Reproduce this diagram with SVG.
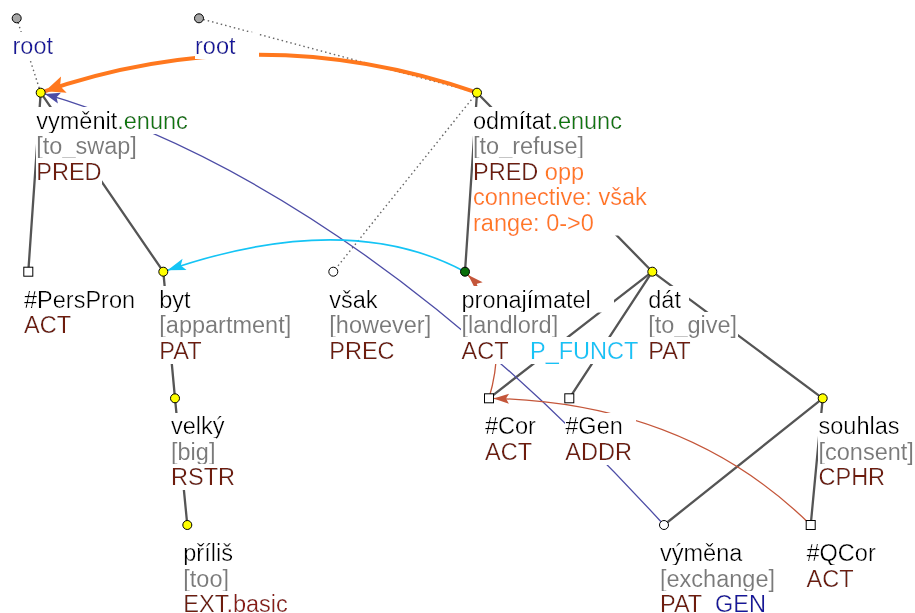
<svg xmlns="http://www.w3.org/2000/svg" width="915" height="613" viewBox="0 0 915 613">
<style>
text{font-family:"Liberation Sans",Arial,sans-serif;font-size:23.5px;fill:#000}
.lb{filter:url(#bg)}
.gl{fill:#7a7a7a}
.fn{fill:#6e1e0e}
.fx{fill:#8a1d14}
.gr{fill:#0e780e}
.or{fill:#ff7a20}
.bl{fill:#16169c}
.cy{fill:#14c4f5}
.pad{fill:#fff}
.edge{stroke:#555;stroke-width:2.3;fill:none;stroke-linecap:round}
.dot{stroke:#666;stroke-width:1.4;stroke-dasharray:1.5 3;fill:none}
.nd{stroke:#000;stroke-width:1}
.yel{fill:#ffff00}
.wht{fill:#fff}
.gry{fill:#a6a6a6}
.grn{fill:#0a6e0a}
</style>
<defs>
<!-- white backing box behind each label line, sized to the text -->
<filter id="bg" x="0" y="0" width="1" height="1">
<feFlood flood-color="#fff"/>
<feComposite in="SourceGraphic"/>
</filter>
<marker id="mOr" markerUnits="userSpaceOnUse" orient="auto" refX="24.5" refY="0" overflow="visible">
<path d="M20,0 L0,-8.5 L4,0 L0,8.5 Z" fill="#ff781e"/>
</marker>
<marker id="mBl" markerUnits="userSpaceOnUse" orient="auto" refX="19.5" refY="0" overflow="visible">
<path d="M15,0 L0,-5.5 L3,0 L0,5.5 Z" fill="#4d4da6"/>
</marker>
<marker id="mCy" markerUnits="userSpaceOnUse" orient="auto" refX="22.5" refY="0" overflow="visible">
<path d="M18,0 L0,-6 L4,0 L0,6 Z" fill="#14c4f5"/>
</marker>
<marker id="mRd" markerUnits="userSpaceOnUse" orient="auto" refX="20" refY="0" overflow="visible">
<path d="M15.5,0 L0,-5 L3,0 L0,5 Z" fill="#c4563a"/>
</marker>
</defs>
<rect width="915" height="613" fill="#fff"/>

<g id="connectors">
<!-- tree edges -->
<line class="edge" x1="40.7" y1="92.7" x2="28.3" y2="271.7"/>
<line class="edge" x1="40.7" y1="92.7" x2="163.3" y2="271.7"/>
<line class="edge" x1="477" y1="92.7" x2="465" y2="271.7"/>
<line class="edge" x1="477" y1="92.7" x2="652.3" y2="271.7"/>
<line class="edge" x1="163.3" y1="271.7" x2="175" y2="398.3"/>
<line class="edge" x1="175" y1="398.3" x2="187.3" y2="525"/>
<line class="edge" x1="652.3" y1="271.7" x2="489" y2="398.3"/>
<line class="edge" x1="652.3" y1="271.7" x2="569.3" y2="398.3"/>
<line class="edge" x1="652.3" y1="271.7" x2="822.7" y2="398.3"/>
<line class="edge" x1="822.7" y1="398.3" x2="664" y2="525"/>
<line class="edge" x1="822.7" y1="398.3" x2="810.7" y2="525"/>
<!-- dotted attachments -->
<line class="dot" x1="16.7" y1="18.3" x2="40.7" y2="92.7"/>
<line class="dot" x1="199" y1="18.3" x2="477" y2="92.7"/>
<line class="dot" x1="477" y1="92.7" x2="333.3" y2="271.7"/>
<!-- coreference and discourse arrows -->
<path d="M477,92.7 Q258,17 40.7,92.7" fill="none" stroke="#ff781e" stroke-width="4" marker-end="url(#mOr)"/>
<path d="M664,525 Q350,182 40.7,92.7" fill="none" stroke="#4d4da6" stroke-width="1.3" marker-end="url(#mBl)"/>
<path d="M465,271.7 Q346,208 163.3,271.7" fill="none" stroke="#14c4f5" stroke-width="1.6" marker-end="url(#mCy)"/>
<path d="M810.7,525 Q686,402 489,398.3" fill="none" stroke="#c4563a" stroke-width="1.3" marker-end="url(#mRd)"/>
<path d="M489,398.3 Q512,319 465,271.7" fill="none" stroke="#c4563a" stroke-width="1.3" marker-end="url(#mRd)"/>
</g>

<g id="root1">
<circle class="nd gry" cx="16.7" cy="18.3" r="4.5"/>
<text class="lb bl" x="12.5" y="53.5">root</text>
</g>
<g id="root2">
<circle class="nd gry" cx="199" cy="18.3" r="4.5"/>
<rect class="pad" x="234" y="32.2" width="25" height="26.3"/>
<text class="lb bl" x="195" y="53.5">root</text>
</g>

<g id="vymenit">
<circle class="nd yel" cx="40.7" cy="92.7" r="4.5"/>
<text class="lb" x="36.3" y="128.5">vyměnit<tspan class="gr">.enunc</tspan></text>
<text class="lb gl" x="36.3" y="154">[to_swap]</text>
<text class="lb fn" x="36.3" y="179.5">PRED</text>
</g>

<g id="odmitat">
<circle class="nd yel" cx="477" cy="92.7" r="4.5"/>
<text class="lb" x="473" y="128.5">odmítat<tspan class="gr">.enunc</tspan></text>
<text class="lb gl" x="473" y="154">[to_refuse]</text>
<text class="lb fn" x="473" y="179.5">PRED<tspan class="or"> opp</tspan></text>
<text class="lb or" x="473" y="205">connective: však</text>
<rect class="pad" x="592" y="209.2" width="30" height="26.3"/>
<text class="lb or" x="473" y="230.5">range: 0-&gt;0</text>
</g>

<g id="perspron">
<rect class="nd wht" x="23.8" y="267.2" width="9" height="9"/>
<text class="lb" x="24" y="307.5">#PersPron</text>
<text class="lb fn" x="24" y="333">ACT</text>
</g>

<g id="byt">
<circle class="nd yel" cx="163.3" cy="271.7" r="4.5"/>
<text class="lb" x="159.3" y="307.5">byt</text>
<text class="lb gl" x="159.3" y="333">[appartment]</text>
<text class="lb fn" x="159.3" y="358.5">PAT</text>
</g>

<g id="vsak">
<circle class="nd wht" cx="333.3" cy="271.7" r="4.5"/>
<text class="lb" x="329.3" y="307.5">však</text>
<text class="lb gl" x="329.3" y="333">[however]</text>
<text class="lb fn" x="329.3" y="358.5">PREC</text>
</g>

<g id="pronajimatel">
<circle class="nd grn" cx="465" cy="271.7" r="4.5"/>
<rect class="pad" x="588" y="286.2" width="26" height="26.3"/>
<text class="lb" x="461.5" y="307.5">pronajímatel</text>
<text class="lb gl" x="461.5" y="333">[landlord]</text>
<text class="lb fn" x="461.5" y="358.5">ACT<tspan class="cy" x="530">P_FUNCT</tspan></text>
</g>

<g id="dat">
<circle class="nd yel" cx="652.3" cy="271.7" r="4.5"/>
<rect class="pad" x="680" y="286.2" width="9" height="26.3"/>
<text class="lb" x="648.3" y="307.5">dát</text>
<text class="lb gl" x="648.3" y="333">[to_give]</text>
<text class="lb fn" x="648.3" y="358.5">PAT</text>
</g>

<g id="velky">
<circle class="nd yel" cx="175" cy="398.3" r="4.5"/>
<text class="lb" x="171" y="434">velký</text>
<text class="lb gl" x="171" y="459.5">[big]</text>
<text class="lb fn" x="171" y="485">RSTR</text>
</g>

<g id="cor">
<rect class="nd wht" x="484.5" y="393.8" width="9" height="9"/>
<text class="lb" x="485" y="434">#Cor</text>
<text class="lb fn" x="485" y="459.5">ACT</text>
</g>

<g id="gen">
<rect class="nd wht" x="564.8" y="393.8" width="9" height="9"/>
<rect class="pad" x="621" y="412.7" width="15" height="26.3"/>
<text class="lb" x="565.3" y="434">#Gen</text>
<text class="lb fn" x="565.3" y="459.5">ADDR</text>
</g>

<g id="souhlas">
<circle class="nd yel" cx="822.7" cy="398.3" r="4.5"/>
<text class="lb" x="818.5" y="434">souhlas</text>
<text class="lb gl" x="818.5" y="459.5">[consent]</text>
<text class="lb fn" x="818.5" y="485">CPHR</text>
</g>

<g id="prilis">
<circle class="nd yel" cx="187.3" cy="525" r="4.5"/>
<text class="lb" x="183.3" y="561">příliš</text>
<text class="lb gl" x="183.3" y="586.5">[too]</text>
<text class="lb fn" x="183.3" y="612">EXT<tspan class="fx">.basic</tspan></text>
</g>

<g id="vymena">
<circle class="nd wht" cx="664" cy="525" r="4.5"/>
<text class="lb" x="660" y="561">výměna</text>
<text class="lb gl" x="660" y="586.5">[exchange]</text>
<text class="lb fn" x="660" y="612">PAT<tspan class="bl" x="715">GEN</tspan></text>
</g>

<g id="qcor">
<rect class="nd wht" x="806.2" y="520.5" width="9" height="9"/>
<text class="lb" x="806.5" y="561">#QCor</text>
<text class="lb fn" x="806.5" y="586.5">ACT</text>
</g>
</svg>
